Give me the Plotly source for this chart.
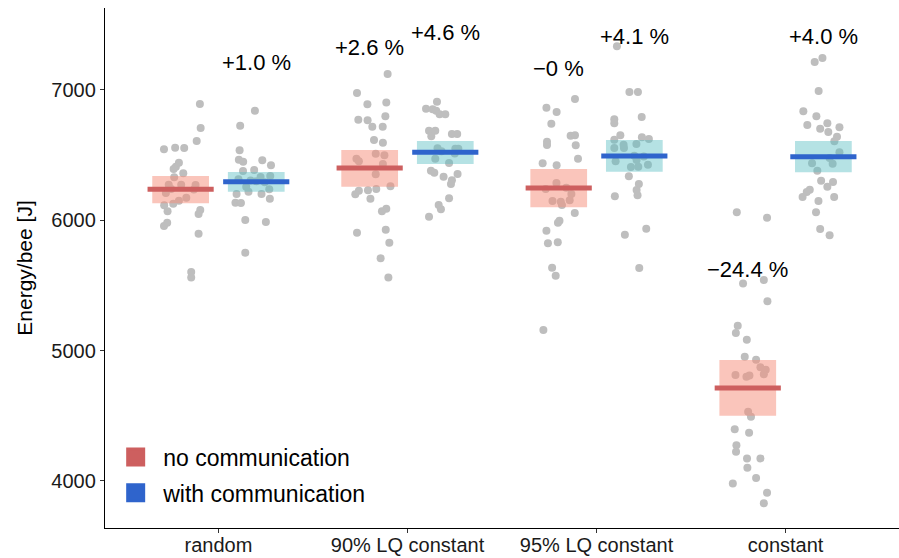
import plotly.graph_objects as go

# ---------------- data ----------------
categories = ["random", "90% LQ constant", "95% LQ constant", "constant"]
group_names = ["no communication", "with communication"]

# Energy per bee [J] of individual runs
random_no = [6892, 6708, 6609, 6545, 6557, 6555, 6442, 6411, 6394, 6361, 6330, 6273, 6273, 6271, 6209,
             6173, 6150, 6127, 6115, 6069, 6079, 6048, 5982, 5956, 5897, 5603, 5562, 6240, 6236]
random_with = [6841, 6726, 6537, 6465, 6450, 6460, 6422, 6378, 6386, 6332, 6340, 6315, 6258, 6238, 6219,
               6202, 6202, 6166, 6135, 6133, 6002, 5987, 5751, 6300, 6292, 6305]
lq90_no = [7123, 6977, 6890, 6903, 6772, 6767, 6798, 6718, 6718, 6616, 6596, 6511, 6499, 6473, 6453,
           6432, 6353, 6261, 6240, 6230, 6227, 6200, 6166, 6089, 6069, 5905, 5928, 5828, 5708, 5562]
lq90_with = [6910, 6856, 6852, 6841, 6814, 6814, 6688, 6688, 6645, 6662, 6662, 6553, 6549, 6549, 6473,
             6440, 6381, 6365, 6355, 6335, 6307, 6279, 6169, 6117, 6084, 6028, 6530, 6512]
lq95_no = [6931, 6864, 6831, 6741, 6649, 6652, 6603, 6578, 6576, 6473, 6437, 6422, 6286, 6240, 6202,
           6148, 6143, 6153, 6117, 6056, 5997, 5982, 5920, 5823, 5831, 5636, 5575, 5158, 6250]
lq95_with = [7335, 6985, 6985, 6793, 6775, 6744, 6652, 6637, 6624, 6619, 6586, 6580, 6555, 6555, 6463,
             6453, 6427, 6409, 6411, 6338, 6279, 6233, 6192, 6184, 5889, 5936, 5634, 6495, 6490]
const_no = [6061, 6020, 5516, 5542, 5378, 5191, 5135, 5084, 4953, 4930, 4872, 4853, 4818, 4813, 4800,
            4810, 4531, 4493, 4396, 4370, 4273, 4224, 4173, 4173, 4101, 4022, 3981, 3909, 3828]
const_with = [7246, 7215, 6992, 6837, 6798, 6731, 6744, 6703, 6678, 6714, 6642, 6606, 6522, 6478, 6437,
              6434, 6381, 6304, 6294, 6258, 6235, 6217, 6179, 6179, 6148, 6061, 5933, 5885]

# horizontal jitter of each run (category units), as seen in the reference
jit_random_no = [0.102, 0.106, 0.085, -0.088, -0.029, 0.019, -0.009, -0.025, -0.037, 0.014, -0.034, -0.063,
                 0.003, 0.079, -0.078, 0.030, -0.009, -0.039, -0.087, -0.069, 0.104, 0.095, -0.071, -0.088,
                 0.095, 0.056, 0.056, -0.05, 0.07]
jit_random_with = [-0.007, -0.085, -0.088, -0.092, -0.069, 0.032, 0.078, -0.070, -0.011, 0.023, 0.074, -0.094,
                   -0.053, 0.069, -0.041, -0.104, 0.028, 0.072, -0.110, -0.081, -0.058, 0.051, -0.058,
                   0.0, 0.045, -0.03]
jit_lq90_no = [0.095, -0.067, -0.012, 0.088, -0.060, -0.011, 0.083, 0.014, 0.069, 0.023, 0.070, 0.032, 0.078,
               -0.070, -0.057, 0.070, 0.032, 0.110, 0.035, -0.009, -0.057, -0.076, 0.004, 0.088, 0.065,
               -0.067, 0.085, 0.104, 0.058, 0.099]
jit_lq90_with = [-0.044, -0.102, -0.067, -0.048, -0.030, 0.0, -0.086, -0.053, -0.074, 0.035, 0.063, -0.041,
                 0.053, 0.069, -0.053, 0.020, -0.076, -0.058, 0.065, -0.009, 0.035, 0.030, 0.020, -0.035,
                 -0.023, -0.086, -0.02, 0.05]
jit_lq95_no = [0.086, -0.065, -0.011, -0.039, 0.063, 0.086, -0.062, -0.062, 0.090, 0.102, -0.085, -0.011,
               -0.012, -0.069, 0.067, -0.033, 0.011, 0.058, 0.017, 0.085, 0.004, -0.004, -0.065, -0.057,
               -0.005, -0.035, -0.016, -0.081, 0.04]
jit_lq95_with = [-0.092, -0.026, 0.019, 0.039, -0.106, -0.106, -0.074, 0.040, 0.077, -0.106, 0.011, -0.057,
                 -0.106, -0.055, 0.012, -0.099, 0.072, -0.018, 0.021, -0.029, 0.024, 0.012, 0.017, -0.103,
                 -0.050, 0.063, 0.026, 0.0, 0.05]
jit_const_no = [-0.058, 0.102, -0.025, 0.085, 0.104, -0.053, -0.063, -0.005, -0.016, 0.044, 0.067, 0.095,
                0.085, -0.065, -0.007, 0.009, 0.002, 0.017, -0.069, 0.007, -0.060, -0.062, -0.004, 0.067,
                -0.002, 0.044, -0.079, 0.102, 0.085]
jit_const_with = [-0.005, -0.046, -0.025, -0.106, -0.037, -0.085, 0.021, -0.017, 0.026, 0.085, 0.072, 0.058,
                  0.085, 0.033, -0.060, 0.049, -0.032, -0.012, 0.051, 0.021, -0.072, -0.088, -0.110, 0.057,
                  -0.026, -0.039, -0.017, 0.033]

# means and 95 % confidence intervals per category
mean_no = [6238, 6401, 6248, 4713]
ci_lo_no = [6130, 6258, 6100, 4500]
ci_hi_no = [6340, 6540, 6394, 4928]
mean_with = [6296, 6522, 6493, 6488]
ci_lo_with = [6220, 6432, 6373, 6368]
ci_hi_with = [6371, 6609, 6616, 6609]

# change relative to random / no communication
pct_labels_no = ["", "+2.6 %", "\u22120 %", "\u221224.4 %"]
pct_y_no = [None, 7325, 7165, 5625]
pct_labels_with = ["+1.0 %", "+4.6 %", "+4.1 %", "+4.0 %"]
pct_y_with = [7212, 7441, 7414, 7414]

y_ticks = [4000, 5000, 6000, 7000]

# ---------------- figure ----------------
points_no = [random_no, lq90_no, lq95_no, const_no]
points_with = [random_with, lq90_with, lq95_with, const_with]
jits_no = [jit_random_no, jit_lq90_no, jit_lq95_no, jit_const_no]
jits_with = [jit_random_with, jit_lq90_with, jit_lq95_with, jit_const_with]

DODGE = 0.2
BOX_HW = 0.15
LINE_HW = 0.175
POINT_COL = "#BEBEBE"
FONT = "Liberation Sans, Arial, sans-serif"

groups = [
    dict(name=group_names[0], off=-DODGE, pts=points_no, jit=jits_no, mean=mean_no, lo=ci_lo_no,
         hi=ci_hi_no, box="rgba(246,140,120,0.5)", line="#CD5F5F", labels=pct_labels_no, ly=pct_y_no),
    dict(name=group_names[1], off=DODGE, pts=points_with, jit=jits_with, mean=mean_with, lo=ci_lo_with,
         hi=ci_hi_with, box="rgba(90,190,195,0.45)", line="#2F64CC", labels=pct_labels_with, ly=pct_y_with),
]

fig = go.Figure()

# jittered points
for g in groups:
    xs, ys = [], []
    for ci, (vals, jit) in enumerate(zip(g["pts"], g["jit"])):
        for v, j in zip(vals, jit):
            xs.append(ci + g["off"] + j)
            ys.append(v)
    fig.add_trace(go.Scatter(x=xs, y=ys, mode="markers", showlegend=False, hoverinfo="skip",
                             marker=dict(color=POINT_COL, size=8, line=dict(width=0))))

# confidence boxes
for g in groups:
    bx, by = [], []
    for ci in range(len(categories)):
        c = ci + g["off"]
        bx += [c - BOX_HW, c + BOX_HW, c + BOX_HW, c - BOX_HW, c - BOX_HW, None]
        by += [g["lo"][ci], g["lo"][ci], g["hi"][ci], g["hi"][ci], g["lo"][ci], None]
    fig.add_trace(go.Scatter(x=bx, y=by, mode="lines", fill="toself", fillcolor=g["box"],
                             line=dict(width=0), showlegend=False, hoverinfo="skip"))

# mean lines
for g in groups:
    lx, ly = [], []
    for ci in range(len(categories)):
        c = ci + g["off"]
        lx += [c - LINE_HW, c + LINE_HW, None]
        ly += [g["mean"][ci], g["mean"][ci], None]
    fig.add_trace(go.Scatter(x=lx, y=ly, mode="lines", line=dict(color=g["line"], width=5),
                             showlegend=False, hoverinfo="skip"))

# legend entries
for g in groups:
    fig.add_trace(go.Scatter(x=[None], y=[None], mode="markers", name=g["name"], legendgroup=g["name"],
                             marker=dict(symbol="square", size=16, color=g["line"],
                                         line=dict(color=g["line"], width=3))))

# percentage annotations
for g in groups:
    for ci, (txt, yv) in enumerate(zip(g["labels"], g["ly"])):
        if txt:
            fig.add_annotation(x=ci + g["off"], y=yv, text=txt, showarrow=False,
                               font=dict(size=22, color="black", family=FONT),
                               xanchor="center", yanchor="middle")

fig.update_layout(
    width=899, height=558,
    margin=dict(l=105, r=0, t=8, b=30, autoexpand=False),
    paper_bgcolor="white", plot_bgcolor="white",
    font=dict(family=FONT, color="black"),
    showlegend=True,
    legend=dict(x=0.004, y=0.026, xanchor="left", yanchor="bottom", font=dict(size=23, color="black"),
                bgcolor="rgba(0,0,0,0)", itemsizing="trace", tracegroupgap=3, itemwidth=45),
)
fig.update_xaxes(range=[-0.6, 3.6], tickmode="array", tickvals=list(range(len(categories))),
                 ticktext=categories, showgrid=False, zeroline=False, showline=True, automargin=False,
                 linecolor="black", linewidth=1.3, ticks="outside", ticklen=4, tickcolor="#333",
                 ticklabelstandoff=-5,
                 tickfont=dict(size=20, color="#1a1a1a"))
fig.update_yaxes(range=[3639, 7629], tickvals=y_ticks, showgrid=False, zeroline=False, showline=True,
                 automargin=False,
                 linecolor="black", linewidth=1.3, ticks="outside", ticklen=4, tickcolor="#333",
                 tickfont=dict(size=20, color="#1a1a1a"),
                 title=dict(text="Energy/bee [J]", font=dict(size=21, color="black"), standoff=12))

fig.write_html("out.html", config={"displayModeBar": False},
               post_script="document.body.style.margin='0';document.body.style.overflow='hidden';")
